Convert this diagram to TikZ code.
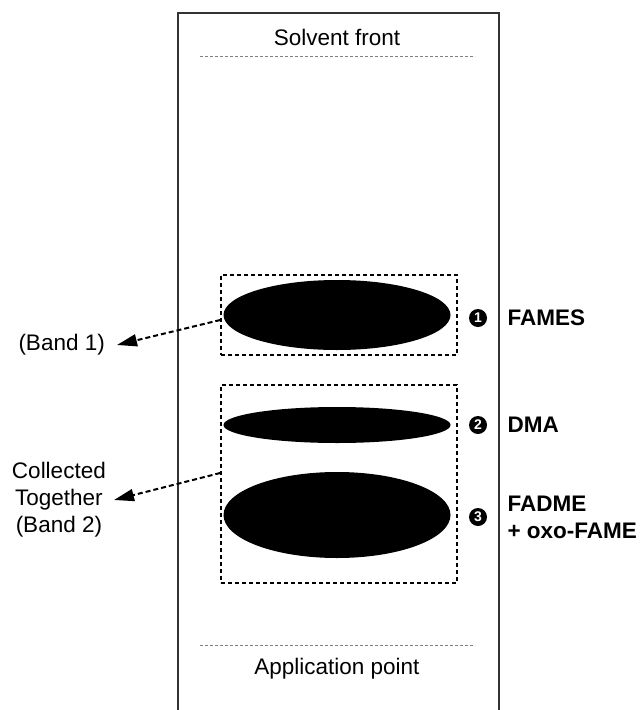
\documentclass[tikz,border=0pt]{standalone}
\usepackage{fontspec}
\setmainfont{Liberation Sans}
\usetikzlibrary{shapes.geometric,arrows.meta}
\begin{document}
\begin{tikzpicture}[x=1pt, y=-1pt,
  every node/.style={align=center, font=\fontsize{22.5}{27}\selectfont},
  spot/.style={ellipse, fill=black, inner sep=0pt, minimum width=227pt},
  bandbox/.style={draw, dash pattern=on 4pt off 3pt, line width=1.6pt, minimum width=236pt, inner sep=0pt},
  lane/.style={gray, line width=0.8pt, dash pattern=on 3pt off 2pt},
  pointer/.style={dash pattern=on 5pt off 3pt, line width=2pt, -{Triangle[length=20pt,width=12pt]}},
  tag/.style={anchor=east, inner xsep=10pt},
  num/.style={circle, fill=black, text=white, inner sep=0pt, minimum size=18pt, font=\fontsize{14}{14}\selectfont\bfseries},
  compound/.style={anchor=west, align=left, font=\fontsize{22.5}{27}\selectfont\bfseries}]
  \useasboundingbox (0,0) rectangle (642,710);

  % TLC plate (open at the bottom)
  \draw[line width=1.3pt, black!80] (178,720) -- (178,13) -- (499,13) -- (499,720);
  \node (front) at (337,37) {Solvent front};
  \draw[lane] (200,56) -- (475,56);
  \draw[lane] (200,645) -- (475,645);
  \node (origin) at (337,669) {Application point};

  % Spots and scraped bands
  \node[spot, minimum height=70pt] (fames) at (337,315) {};
  \node[spot, minimum height=36pt] (dma) at (337,425) {};
  \node[spot, minimum height=86pt] (fadme) at (337,515) {};
  \node[bandbox, minimum height=80pt] (box1) at (339,315) {};
  \node[bandbox, minimum height=198pt] (box2) at (339,484) {};

  % Spot labels
  \node[num] (n1) at (478,318) {1};
  \node[num] (n2) at (478,425) {2};
  \node[num] (n3) at (478,517) {3};
  \node[compound] (lfames) at (504,318) {FAMES};
  \node[compound] (ldma) at (504,425) {DMA};
  \node[compound] (lfadme) at (504,517) {FADME\\+ oxo-FAME};

  % Band labels
  \node[tag, inner xsep=12pt] (band1) at (117,345) {(Band 1)};
  \node[tag, inner xsep=8pt] (band2) at (114,500) {Collected\\Together\\(Band 2)};
  \draw[pointer] ([yshift=-5pt]box1.west) -- (band1.east);
  \draw[pointer] ([yshift=11pt]box2.west) -- (band2.east);
\end{tikzpicture}
\end{document}
